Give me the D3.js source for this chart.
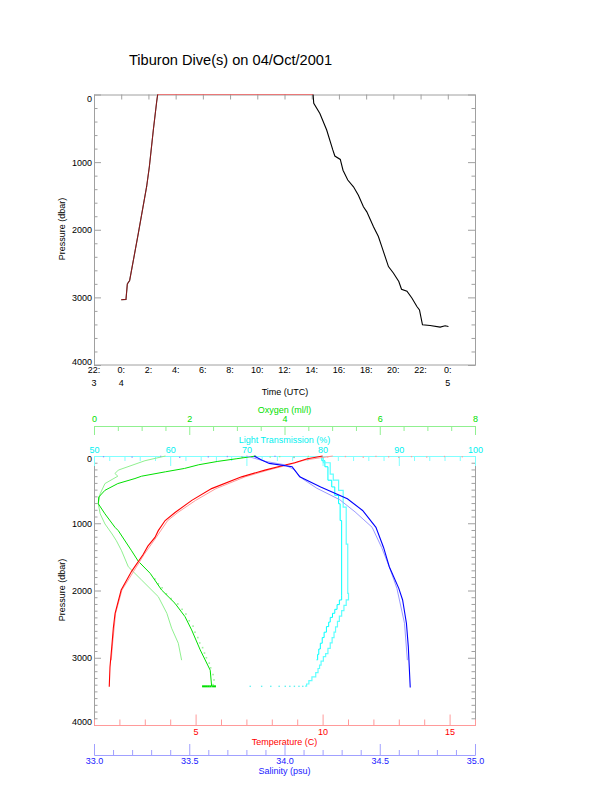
<!DOCTYPE html>
<html>
<head>
<meta charset="utf-8">
<script src="https://cdn.jsdelivr.net/npm/d3@7"></script>
<style>
  body { margin: 0; background: #fff; }
  svg text { font-family: "Liberation Sans", Arial, sans-serif; }
</style>
</head>
<body>
<svg id="chart" width="612" height="785"></svg>
<script>
// top panel: vehicle pressure vs time (hours from 0:00 on the 4th)
const trackHours = [0.0, 0.35, 0.45, 0.62, 1.26, 1.87, 2.07, 2.36, 2.61, 2.68, 14.1, 14.15, 14.6, 15.1, 15.55, 15.7,
    16.1, 16.3, 16.65, 17.07, 17.43, 17.8, 18.05, 18.54, 18.9, 19.15, 19.64, 20.0, 20.4, 20.6, 21.0, 21.36, 21.73,
    21.92, 22.14, 22.7, 23.44, 23.8, 24.05];
const trackPressure = [3035, 3030, 2800, 2750, 2050, 1360, 1065, 525, 100, 0, 0, 130, 280, 525, 820, 910,
    960, 1120, 1265, 1365, 1490, 1660, 1735, 1955, 2100, 2250, 2545, 2640, 2765, 2880, 2910, 3010, 3135,
    3185, 3405, 3415, 3440, 3420, 3430];
const surfaceStart = 2.68;
const surfaceEnd = 14.1;

const timeTicks = [-2, 0, 2, 4, 6, 8, 10, 12, 14, 16, 18, 20, 22, 24];
const timeHourLabels = ["22:", "0:", "2:", "4:", "6:", "8:", "10:", "12:", "14:", "16:", "18:", "20:", "22:", "0:"];
const timeDayLabels = ["3", "4", "", "", "", "", "", "", "", "", "", "", "", "5"];
const pressureTicks = [0, 1000, 2000, 3000, 4000];

// bottom panel: profiles (deep = second dive, shallow = first dive), pressure in dbar
const tempDeepP = [0, 40, 100, 135, 210, 310, 485, 660, 840, 960, 1110, 1210, 1340, 1460, 1715, 1993, 2339, 2561, 2838, 3135, 3432];
const tempDeep = [10.0, 9.4, 8.9, 8.52, 7.73, 6.81, 5.63, 4.85, 4.19, 3.8, 3.53, 3.4, 3.12, 2.94, 2.48, 2.07, 1.83, 1.76, 1.70, 1.63, 1.60];
const tempShallowP = [0, 60, 135, 210, 310, 485, 660, 840, 960, 1210, 1460, 1740, 1993, 2339, 2838, 3036];
const tempShallow = [10.4, 9.3, 8.62, 7.85, 6.95, 5.8, 5.0, 4.3, 3.9, 3.45, 2.98, 2.52, 2.1, 1.85, 1.72, 1.68];

const salDeepP = [0, 60, 110, 160, 310, 460, 635, 810, 1060, 1360, 1647, 1968, 2141, 2487, 2838, 3442];
const salDeep = [33.84, 33.88, 33.92, 34.04, 34.08, 34.19, 34.33, 34.41, 34.48, 34.52, 34.55, 34.60, 34.62, 34.64, 34.65, 34.66];
const salShallowP = [0, 80, 130, 200, 330, 480, 650, 830, 1060, 1360, 1647, 1968, 2487, 3036];
const salShallow = [33.8, 33.9, 34.0, 34.05, 34.09, 34.17, 34.29, 34.37, 34.46, 34.51, 34.55, 34.59, 34.63, 34.645];

const oxyDeepP = [0, 40, 80, 130, 185, 235, 300, 335, 410, 510, 610, 710, 860, 1060, 1110, 1410, 1565, 1745, 1993, 2190, 2388, 2586, 2883, 3185, 3422];
const oxyDeep = [3.4, 3.0, 2.6, 2.2, 1.9, 1.5, 1.0, 0.86, 0.5, 0.23, 0.1, 0.09, 0.23, 0.44, 0.51, 0.79, 0.93, 1.18, 1.42, 1.70, 1.91, 2.05, 2.23, 2.44, 2.47];
const oxyShallowP = [0, 70, 210, 260, 300, 410, 560, 710, 860, 1010, 1160, 1260, 1410, 1647, 1845, 2092, 2339, 2561, 2784, 3036];
const oxyShallow = [1.5, 1.07, 0.51, 0.44, 0.5, 0.23, 0.13, 0.09, 0.13, 0.23, 0.38, 0.47, 0.58, 0.72, 1.0, 1.35, 1.53, 1.63, 1.77, 1.84];
const oxyNoiseP = [1830, 1900, 1960, 2050, 2120, 2200, 2280, 2350, 2450, 2530, 2620, 2700, 2780, 2850, 2930, 3000, 3080, 3150, 3250, 3330, 3400];
const oxyNoise = [1.28, 1.35, 1.43, 1.52, 1.62, 1.76, 1.85, 1.93, 2.0, 2.08, 2.12, 2.18, 2.22, 2.28, 2.32, 2.36, 2.42, 2.45, 2.5, 2.52, 2.5];
const oxyBottom = [2.29, 2.33, 2.37, 2.41, 2.45, 2.5, 2.54];

const ltDeepP = [0, 30, 100, 270, 360, 510, 760, 1310, 2042, 2140, 2220, 2300, 2380, 2460, 2540, 2620, 2700, 2780, 2860, 2940, 2982, 3050, 3110, 3160, 3220, 3283, 3340, 3390, 3422];
const ltDeep = [79.9, 80.1, 81.0, 81.4, 82.1, 82.7, 83.1, 83.3, 83.4, 83.1, 82.8, 82.5, 82.2, 81.95, 81.7, 81.5, 81.25, 81.0, 80.7, 80.4, 80.1, 79.8, 79.6, 79.4, 79.1, 78.6, 78.2, 77.9, 77.7];
const ltShallowP = [0, 70, 160, 360, 460, 585, 710, 960, 2080, 2141, 2210, 2280, 2339, 2400, 2470, 2537, 2620, 2700, 2784, 2870, 2950, 3031];
const ltShallow = [79.9, 80.3, 80.7, 81.2, 81.6, 82.1, 82.3, 82.5, 82.5, 82.2, 81.9, 81.6, 81.3, 81.0, 80.8, 80.5, 80.2, 79.95, 79.7, 79.5, 79.35, 79.2];
const ltBottom = [70.5, 72.0, 73.2, 74.3, 75.1, 75.7, 76.3, 76.9, 77.4];
const bottomPressure = 3425;

const surfTempP = [14, 8, 18, 6, 12, 20, 9, 15, 7, 11];
const surfTemp = [10.2, 10.9, 11.6, 12.1, 12.6, 13.0, 13.5, 14.1, 14.8, 15.5];
const surfSalP = [10, 16, 6, 20, 12, 8, 18, 14, 5, 22];
const surfSal = [33.05, 33.2, 33.35, 33.45, 33.6, 33.7, 33.78, 33.85, 33.95, 34.05];
const surfOxyP = [12, 7, 16, 9, 14, 6];
const surfOxy = [3.1, 3.4, 3.7, 3.9, 4.2, 4.5];

const tempTicks = [5, 10, 15];
const salTicks = [33.0, 33.5, 34.0, 34.5, 35.0];
const oxyTicks = [0, 2, 4, 6, 8];
const ltTicks = [50, 60, 70, 80, 90, 100];

const svg = d3.select("#chart");
const left = 94, right = 475, mid = (left + right) / 2;
const gray = "#a0a0a0";
const fs = 9;

function styleAxis(g, lineColor, textColor) {
    g.attr("font-family", null).attr("font-size", null);
    g.select(".domain").attr("stroke", lineColor);
    g.selectAll(".tick line").attr("stroke", lineColor);
    g.selectAll(".tick text").attr("fill", textColor).attr("font-size", fs);
    return g;
}

// ---------------- top panel ----------------
const xTime = d3.scaleLinear().domain([-2, 26]).range([left, right]);
const yTop = d3.scaleLinear().domain([0, 4000]).range([94.5, 365]);

svg.append("text").attr("x", 230.5).attr("y", 65).attr("text-anchor", "middle")
    .attr("font-size", 14.6).attr("fill", "#000").text("Tiburon Dive(s) on 04/Oct/2001");

svg.append("line").attr("x1", left).attr("x2", right).attr("y1", 365).attr("y2", 365).attr("stroke", gray);

svg.append("g").attr("transform", "translate(0,94.5)")
    .call(d3.axisTop(xTime).tickValues(timeTicks.concat([26])).tickSize(-5).tickSizeOuter(0).tickFormat(""))
    .call(g => styleAxis(g, gray, "#000"));

function pressureAxes(y, yOff, yEnd, minorStep) {
    const minor = d3.range(0, 4001, minorStep).filter(v => v % 1000 !== 0);
    svg.append("g").attr("transform", `translate(${left},0)`)
        .call(d3.axisLeft(y).tickValues(pressureTicks).tickSize(-7).tickPadding(2).tickSizeOuter(0).tickFormat(d3.format("d")))
        .call(g => styleAxis(g, gray, "#000"))
        .call(g => g.selectAll(".tick text")
            .attr("dy", d => d === 0 ? yOff : d === 4000 ? yEnd : "0.32em"));
    svg.append("g").attr("transform", `translate(${left},0)`)
        .call(d3.axisLeft(y).tickValues(minor).tickSize(-3.5).tickSizeOuter(0).tickFormat(""))
        .call(g => styleAxis(g, gray, "#000"));
    svg.append("g").attr("transform", `translate(${right},0)`)
        .call(d3.axisRight(y).tickValues(pressureTicks).tickSize(-7).tickSizeOuter(0).tickFormat(""))
        .call(g => styleAxis(g, gray, "#000"));
    svg.append("g").attr("transform", `translate(${right},0)`)
        .call(d3.axisRight(y).tickValues(minor).tickSize(-3.5).tickSizeOuter(0).tickFormat(""))
        .call(g => styleAxis(g, gray, "#000"));
}
pressureAxes(yTop, "0.75em", "-0.05em", 200);

timeTicks.forEach((t, i) => {
    svg.append("text").attr("x", xTime(t)).attr("y", 372.5).attr("text-anchor", "middle")
        .attr("font-size", fs).text(timeHourLabels[i]);
    if (timeDayLabels[i]) {
        svg.append("text").attr("x", xTime(t)).attr("y", 385.5).attr("text-anchor", "middle")
            .attr("font-size", fs).text(timeDayLabels[i]);
    }
});
svg.append("text").attr("x", 285).attr("y", 395).attr("text-anchor", "middle")
    .attr("font-size", fs).text("Time (UTC)");
svg.append("text").attr("transform", "translate(65,229) rotate(-90)").attr("text-anchor", "middle")
    .attr("font-size", fs).text("Pressure (dbar)");

const track = trackHours.map((t, i) => [t, trackPressure[i]]);
const trackLine = d3.line().x(d => xTime(d[0])).y(d => yTop(d[1]));
svg.append("path").datum(track.filter(d => d[0] <= surfaceStart))
    .attr("d", trackLine).attr("fill", "none").attr("stroke", "#000").attr("stroke-width", 1.1);
svg.append("path").datum(track.filter(d => d[0] >= surfaceEnd))
    .attr("d", trackLine).attr("fill", "none").attr("stroke", "#000").attr("stroke-width", 1.1);
svg.append("path").datum(track.filter(d => d[0] <= surfaceEnd))
    .attr("d", trackLine).attr("fill", "none").attr("stroke", "#ff3030").attr("stroke-opacity", 0.55)
    .attr("stroke-width", 1);

// ---------------- bottom panel ----------------
const yBot = d3.scaleLinear().domain([0, 4000]).range([456, 725]);
const xTemp = d3.scaleLinear().domain([1, 16]).range([left, right]);
const xSal = d3.scaleLinear().domain([33, 35]).range([left, right]);
const xOxy = d3.scaleLinear().domain([0, 8]).range([left, right]);
const xLt = d3.scaleLinear().domain([50, 100]).range([left, right]);

pressureAxes(yBot, "0.6em", "-0.05em", 100);
svg.append("text").attr("transform", "translate(65,590) rotate(-90)").attr("text-anchor", "middle")
    .attr("font-size", fs).text("Pressure (dbar)");

function hAxis(scale, y, major, minorStep, dir, bigTick, smallTick, pad, lineColor, textColor, fmt) {
    const [d0, d1] = scale.domain();
    const minor = d3.range(d0, d1 + 1e-9, minorStep).filter(v => !major.some(m => Math.abs(m - v) < 1e-6));
    const maker = dir === "top" ? d3.axisTop : d3.axisBottom;
    svg.append("g").attr("transform", `translate(0,${y})`)
        .call(maker(scale).tickValues(major).tickSize(-bigTick).tickPadding(pad).tickSizeOuter(0).tickFormat(fmt))
        .call(g => styleAxis(g, lineColor, textColor));
    svg.append("g").attr("transform", `translate(0,${y})`)
        .call(maker(scale).tickValues(minor).tickSize(-smallTick).tickSizeOuter(0).tickFormat(""))
        .call(g => styleAxis(g, lineColor, textColor));
}

// oxygen (top, outer)
hAxis(xOxy, 426, oxyTicks, 0.5, "top", 9, 5, 4.5, "#90f090", "#00e000", d3.format("d"));
svg.append("text").attr("x", mid).attr("y", 413).attr("text-anchor", "middle")
    .attr("font-size", fs).attr("fill", "#00e000").text("Oxygen (ml/l)");
// light transmission (top of plot)
hAxis(xLt, 456, ltTicks, 2, "top", 10, 5, 3.5, "#80ffff", "#00f0f0", d3.format("d"));
svg.append("text").attr("x", mid).attr("y", 443).attr("text-anchor", "middle")
    .attr("font-size", fs).attr("fill", "#00f0f0").text("Light Transmission (%)");
// temperature (bottom of plot)
hAxis(xTemp, 725, tempTicks, 1, "bottom", 10.5, 5.5, 3.5, "#ff9a9a", "#ff0000", d3.format("d"));
svg.append("text").attr("x", mid).attr("y", 745).attr("text-anchor", "middle")
    .attr("font-size", fs).attr("fill", "#ff0000").text("Temperature (C)");
// salinity (bottom, outer)
hAxis(xSal, 755, salTicks, 0.1, "bottom", 11, 5, 2.5, "#a0a0ff", "#2020ff", d3.format(".1f"));
svg.append("text").attr("x", mid).attr("y", 774).attr("text-anchor", "middle")
    .attr("font-size", fs).attr("fill", "#2020ff").text("Salinity (psu)");

function profile(xs, ps, vals, color, width, curve) {
    const pts = ps.map((p, i) => [vals[i], p]);
    svg.append("path").datum(pts)
        .attr("d", d3.line().x(d => xs(d[0])).y(d => yBot(d[1])).curve(curve || d3.curveLinear))
        .attr("fill", "none").attr("stroke", color).attr("stroke-width", width);
}
function dots(xs, ps, vals, color, size) {
    svg.append("g").selectAll("rect").data(vals).join("rect")
        .attr("x", d => xs(d) - size / 2)
        .attr("y", (d, i) => yBot(Array.isArray(ps) ? ps[i] : ps) - size / 2)
        .attr("width", size).attr("height", size).attr("fill", color);
}

// surface scatter
dots(xTemp, surfTempP, surfTemp, "#ffa0a0", 1.3);
dots(xSal, surfSalP, surfSal, "#9090ff", 1.3);
dots(xOxy, surfOxyP, surfOxy, "#90f090", 1.3);

// light transmission
profile(xLt, ltShallowP, ltShallow, "#00ffff", 1, d3.curveStepBefore);
profile(xLt, ltDeepP, ltDeep, "#60ffff", 1.2, d3.curveStepBefore);
dots(xLt, bottomPressure, ltBottom, "#60f0f0", 1.4);

// oxygen
profile(xOxy, oxyShallowP, oxyShallow, "#90f090", 1);
dots(xOxy, oxyNoiseP, oxyNoise, "#a0f0a0", 1.6);
profile(xOxy, oxyDeepP, oxyDeep, "#00e000", 1);
dots(xOxy, bottomPressure, oxyBottom, "#00e000", 2);

// temperature
profile(xTemp, tempShallowP, tempShallow, "#ff9a9a", 1);
profile(xTemp, tempDeepP, tempDeep, "#ff0000", 1.1);

// salinity
profile(xSal, salShallowP, salShallow, "#9a9aff", 1);
profile(xSal, salDeepP, salDeep, "#0000ff", 1.1);
</script>
</body>
</html>
